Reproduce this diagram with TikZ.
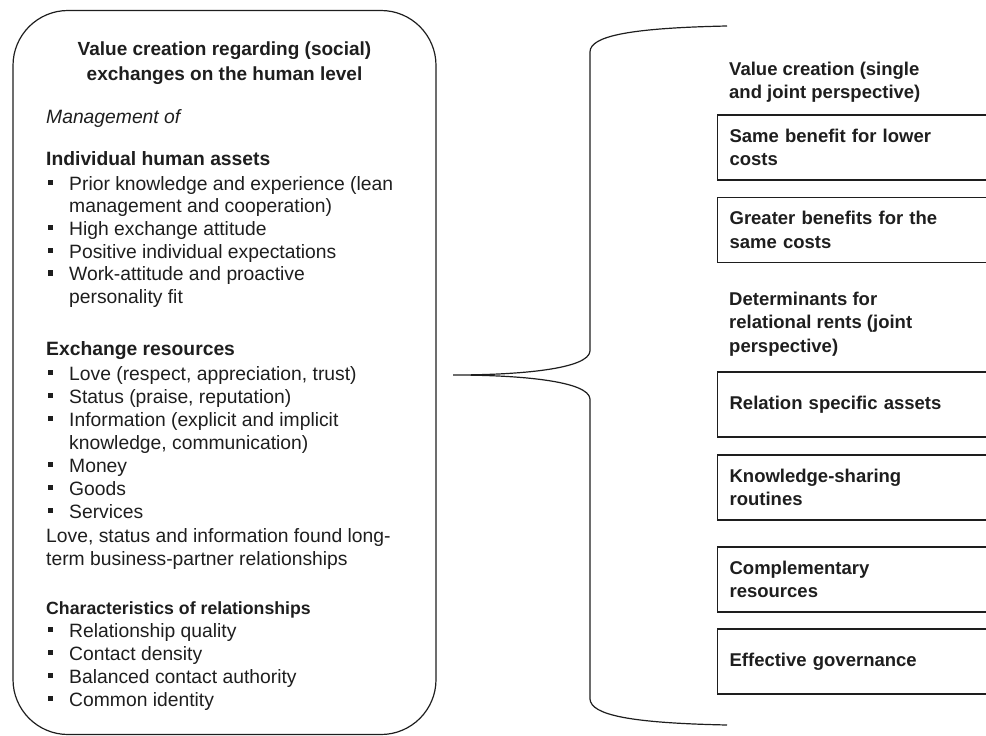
\documentclass[tikz,border=0pt]{standalone}
\usepackage{fontspec}
\setmainfont{Liberation Sans}
\definecolor{ink}{RGB}{30,30,30}
\begin{document}
\begin{tikzpicture}[x=1pt,y=-1pt,
  txt/.style={anchor=base west,inner sep=0pt,text=ink,font=\fontsize{19.3}{22.5}\selectfont},
  hd/.style={txt,font=\fontsize{19.3}{22.5}\selectfont\bfseries},
  hds/.style={txt,font=\fontsize{17.7}{21}\selectfont\bfseries},
  ttl/.style={anchor=base,inner sep=0pt,text=ink,font=\fontsize{19}{22.5}\selectfont\bfseries},
  rt/.style={anchor=base west,inner sep=0pt,text=ink,font=\fontsize{18.5}{23.3}\selectfont\bfseries},
  bul/.style={rectangle,fill=ink,inner sep=0pt,minimum size=5.5pt},
  rbox/.style={draw=ink,line width=1.2pt,rectangle,anchor=west,align=left,
    text width=290pt,inner xsep=12pt,minimum height=65pt,text=ink,
    font=\fontsize{18.5}{23.3}\selectfont\bfseries},
  brace/.style={draw=ink,line width=1.2pt}]
\useasboundingbox (0,0) rectangle (986,736);
\clip (0,0) rectangle (986,736);

% left panel
\node[draw=ink,line width=1.2pt,rounded corners=55pt,minimum width=423pt,
  minimum height=724pt,inner sep=0pt] (left) at (224.5,372.5) {};

\node[ttl] (t1) at (224.5,55) {Value creation regarding (social)};
\node[ttl] (t2) at (224.5,80) {exchanges on the human level};
\node[txt,font=\fontsize{19.3}{22.5}\selectfont\itshape] (mg) at (46,123) {Management of};

\node[hd] (h1) at (46,165) {Individual human assets};
\node[bul] (b1) at (50.5,182.5) {};
\node[txt] (i1) at (69,190) {Prior knowledge and experience (lean};
\node[txt] (i1b) at (69,212.5) {management and cooperation)};
\node[bul] (b2) at (50.5,227.5) {};
\node[txt] (i2) at (69,235) {High exchange attitude};
\node[bul] (b3) at (50.5,250.5) {};
\node[txt] (i3) at (69,258) {Positive individual expectations};
\node[bul] (b4) at (50.5,273) {};
\node[txt] (i4) at (69,280.5) {Work-attitude and proactive};
\node[txt] (i4b) at (69,303) {personality fit};

\node[hd] (h2) at (46,355) {Exchange resources};
\node[bul] (b5) at (50.5,372.5) {};
\node[txt] (e1) at (69,380) {Love (respect, appreciation, trust)};
\node[bul] (b6) at (50.5,395.5) {};
\node[txt] (e2) at (69,403) {Status (praise, reputation)};
\node[bul] (b7) at (50.5,418.5) {};
\node[txt] (e3) at (69,426) {Information (explicit and implicit};
\node[txt] (e3b) at (69,449) {knowledge, communication)};
\node[bul] (b8) at (50.5,464.5) {};
\node[txt] (e4) at (69,472) {Money};
\node[bul] (b9) at (50.5,487.5) {};
\node[txt] (e5) at (69,495) {Goods};
\node[bul] (b10) at (50.5,510.5) {};
\node[txt] (e6) at (69,518) {Services};
\node[txt] (n1) at (46,542) {Love, status and information found long-};
\node[txt] (n2) at (46,565) {term business-partner relationships};

\node[hds] (h3) at (46,614) {Characteristics of relationships};
\node[bul] (b11) at (50.5,629.5) {};
\node[txt] (c1) at (69,637) {Relationship quality};
\node[bul] (b12) at (50.5,652.5) {};
\node[txt] (c2) at (69,660) {Contact density};
\node[bul] (b13) at (50.5,675.5) {};
\node[txt] (c3) at (69,683) {Balanced contact authority};
\node[bul] (b14) at (50.5,698.5) {};
\node[txt] (c4) at (69,706) {Common identity};

% curly brace
\coordinate (tip) at (453,375);
\coordinate (btop) at (727,26);
\coordinate (bbot) at (727,725);
\draw[brace] (btop) .. controls (630,28) and (590,36) .. (590,52)
  -- (590,351) .. controls (589,369) and (520,375) .. (tip)
  .. controls (520,375) and (589,381) .. (590,399)
  -- (590,699) .. controls (591,715) and (630,723) .. (bbot);

% right column
\node[rt] (r1) at (729,75) {Value creation (single};
\node[rt] (r2) at (729,98) {and joint perspective)};
\node[rbox] (s1) at (717,147.5) {Same benefit for lower\\costs};
\node[rbox] (s2) at (717,230) {Greater benefits for the\\same costs};
\node[rt] (d1) at (729,305) {Determinants for};
\node[rt] (d2) at (729,328.5) {relational rents (joint};
\node[rt] (d3) at (729,352) {perspective)};
\node[rbox] (s3) at (717,404.5) {Relation specific assets};
\node[rbox] (s4) at (717,487.5) {Knowledge-sharing\\routines};
\node[rbox] (s5) at (717,579.5) {Complementary\\resources};
\node[rbox] (s6) at (717,661.5) {Effective governance};
\end{tikzpicture}
\end{document}
